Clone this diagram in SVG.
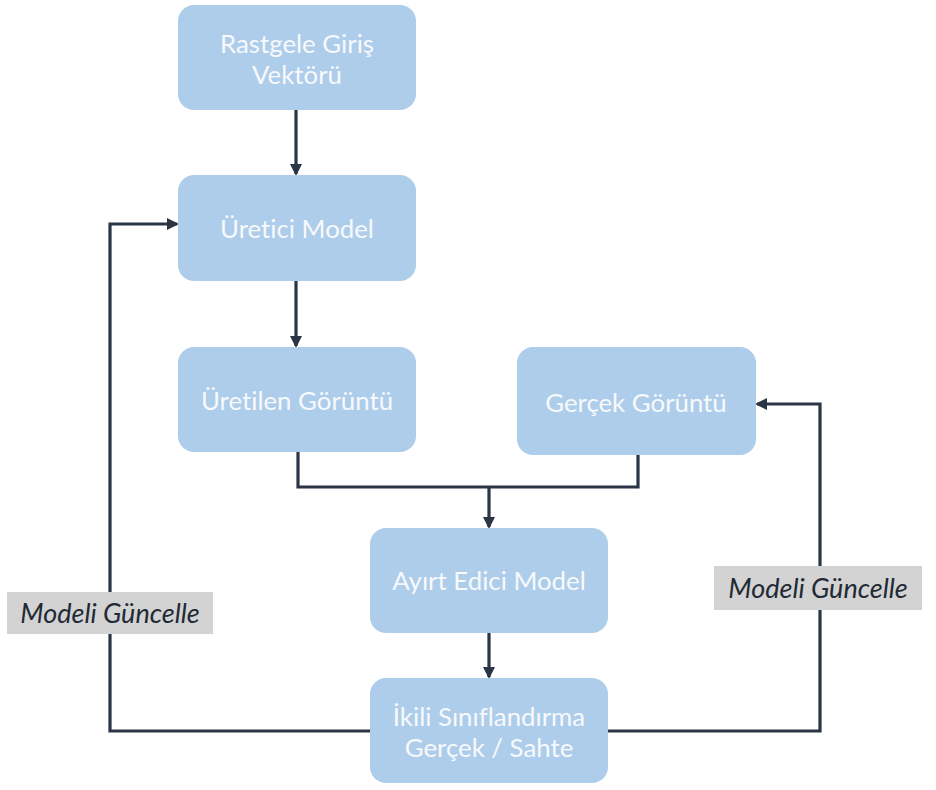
<svg xmlns="http://www.w3.org/2000/svg" width="936" height="790" viewBox="0 0 936 790">
  <style>
    .box { fill: #aecdea; }
    .lbl { fill: #f7f9fc; font-family: Lato, "Open Sans", sans-serif; font-size: 25.8px; text-anchor: middle; dominant-baseline: central; font-variant-ligatures: none; }
    .wire { fill: none; stroke: #2b3545; stroke-width: 3.2; stroke-linejoin: miter; }
    .tag { fill: #d3d3d3; }
    .tagtxt { fill: #222a35; font-family: Lato, "Open Sans", sans-serif; font-size: 27px; font-style: italic; text-anchor: middle; dominant-baseline: central; font-variant-ligatures: none; }
  </style>
  <defs>
    <marker id="arrow" markerWidth="12" markerHeight="12" refX="10" refY="6" orient="auto" markerUnits="userSpaceOnUse">
      <path d="M0,0 L12,6 L0,12 Z" fill="#2b3545"/>
    </marker>
  </defs>
  <rect width="936" height="790" fill="#ffffff"/>

  <g id="connectors">
    <path class="wire" d="M296,110 V174" marker-end="url(#arrow)"/>
    <path class="wire" d="M296,281 V346" marker-end="url(#arrow)"/>
    <path class="wire" d="M298,452 V487 H638 V455"/>
    <path class="wire" d="M489,487 V527" marker-end="url(#arrow)"/>
    <path class="wire" d="M489,633 V677" marker-end="url(#arrow)"/>
    <path class="wire" d="M370,731 H110 V224 H177" marker-end="url(#arrow)"/>
    <path class="wire" d="M608,731 H820 V404 H757" marker-end="url(#arrow)"/>
  </g>

  <g id="rastgele">
    <rect class="box" x="178" y="5" width="238" height="105" rx="16"/>
    <text class="lbl" x="297" y="43">Rastgele Giriş</text>
    <text class="lbl" x="297" y="74">Vektörü</text>
  </g>
  <g id="uretici">
    <rect class="box" x="178" y="175" width="238" height="106" rx="16"/>
    <text class="lbl" x="297" y="228">Üretici Model</text>
  </g>
  <g id="uretilen">
    <rect class="box" x="178" y="347" width="238" height="105" rx="16"/>
    <text class="lbl" x="297" y="400">Üretilen Görüntü</text>
  </g>
  <g id="gercek">
    <rect class="box" x="517" y="347" width="239" height="108" rx="16"/>
    <text class="lbl" x="636" y="402">Gerçek Görüntü</text>
  </g>
  <g id="ayirt">
    <rect class="box" x="370" y="528" width="238" height="105" rx="16"/>
    <text class="lbl" x="489" y="580">Ayırt Edici Model</text>
  </g>
  <g id="ikili">
    <rect class="box" x="370" y="678" width="238" height="105" rx="16"/>
    <text class="lbl" x="489" y="716">İkili Sınıflandırma</text>
    <text class="lbl" x="489" y="747">Gerçek / Sahte</text>
  </g>

  <g id="guncelle-sol">
    <rect class="tag" x="7" y="592" width="206" height="42"/>
    <text class="tagtxt" x="110" y="612">Modeli Güncelle</text>
  </g>
  <g id="guncelle-sag">
    <rect class="tag" x="714" y="566" width="208" height="44"/>
    <text class="tagtxt" x="818" y="587">Modeli Güncelle</text>
  </g>
</svg>
